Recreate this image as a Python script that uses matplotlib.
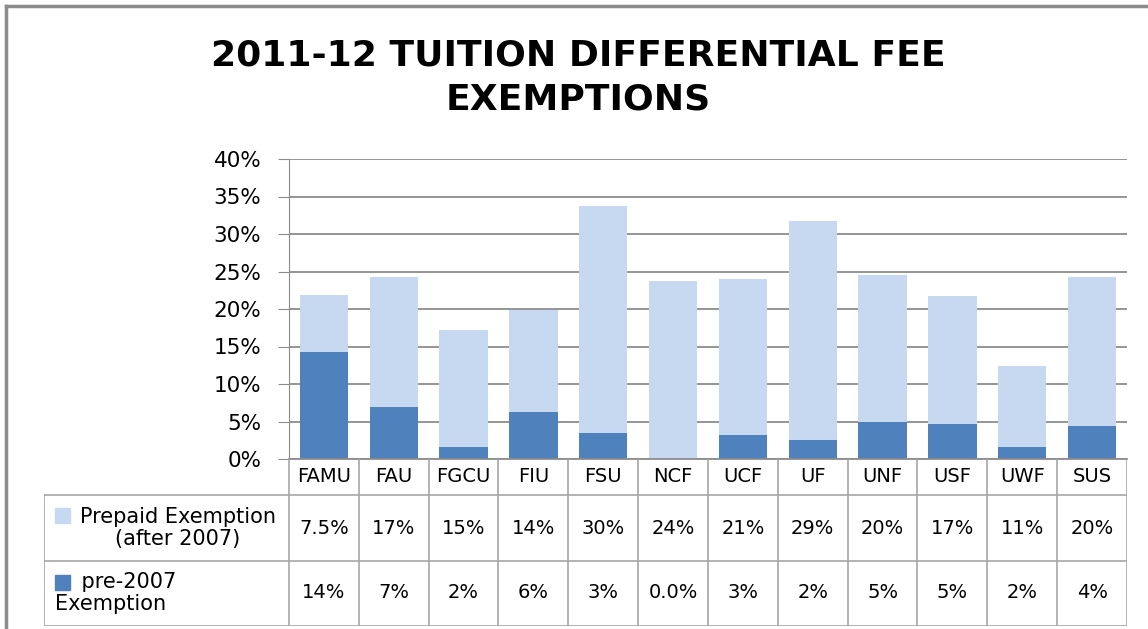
import matplotlib.pyplot as plt
import numpy as np
from matplotlib.lines import Line2D
from matplotlib.patches import Rectangle

schools = ['FAMU', 'FAU', 'FGCU', 'FIU', 'FSU', 'NCF', 'UCF', 'UF', 'UNF', 'USF', 'UWF', 'SUS']
pre2007 = [14.3, 6.9, 1.6, 6.3, 3.5, 0.0, 3.2, 2.5, 5.0, 4.7, 1.6, 4.4]
prepaid = [7.6, 17.4, 15.6, 13.6, 30.2, 23.7, 20.8, 29.2, 19.6, 17.1, 10.8, 19.9]
# text shown in the data table under the chart
prepaid_txt = ['7.5%', '17%', '15%', '14%', '30%', '24%', '21%', '29%', '20%', '17%', '11%', '20%']
pre2007_txt = ['14%', '7%', '2%', '6%', '3%', '0.0%', '3%', '2%', '5%', '5%', '2%', '4%']
yticks = [0, 5, 10, 15, 20, 25, 30, 35, 40]

light = '#C6D9F1'
dark = '#4F81BD'
grid_c = '#8C8C8C'
tab_c = '#A6A6A6'

W, H = 1148, 629
def box(l, t, r, b):
    return [l / W, 1 - b / H, (r - l) / W, (b - t) / H]

fig = plt.figure(figsize=(W / 100, H / 100), dpi=100)

# outer frame (top and left only visible)
fig.add_artist(Line2D([6 / W, 1], [1 - 6 / H, 1 - 6 / H], color=grid_c, lw=2.5))
fig.add_artist(Line2D([6 / W, 6 / W], [0, 1 - 6 / H], color=grid_c, lw=2.5))

fig.text(578 / W, 1 - 55 / H, '2011-12 TUITION DIFFERENTIAL FEE', ha='center', va='center',
         fontsize=26, fontweight='bold')
fig.text(578 / W, 1 - 100 / H, 'EXEMPTIONS', ha='center', va='center',
         fontsize=26, fontweight='bold')

ax = fig.add_axes(box(289, 159, 1127, 459))
x = np.arange(len(schools))
ax.bar(x, pre2007, 0.69, color=dark, zorder=2)
ax.bar(x, prepaid, 0.69, bottom=pre2007, color=light, zorder=2)
ax.set_xlim(-0.5, len(schools) - 0.5)
ax.set_ylim(0, 40)
ax.set_yticks(yticks)
ax.set_yticklabels([f'{v}%' for v in yticks], fontsize=15.5)
ax.set_xticks([])
ax.yaxis.grid(True, color=grid_c, lw=1.3)
ax.set_axisbelow(True)
for s in ['top', 'right']:
    ax.spines[s].set_visible(False)
ax.spines['left'].set_color(grid_c)
ax.spines['bottom'].set_color(grid_c)
ax.spines['bottom'].set_linewidth(1.3)
ax.tick_params(axis='y', direction='out', length=8, color=grid_c, pad=12)

# data table below the plot, columns aligned with the bars
unit = (1127 - 289) / len(schools)
tab = fig.add_axes(box(44, 459, 1127, 626))
tab.set_xlim(-0.5 - (289 - 44) / unit, len(schools) - 0.5)
tab.set_ylim(167, 0)
tab.axis('off')
x0 = -0.5 - (289 - 44) / unit
for i in range(len(schools) + 1):
    tab.plot([i - 0.5, i - 0.5], [0, 167], color=tab_c, lw=1.2)
tab.plot([x0, x0], [36, 167], color=tab_c, lw=1.2)
for yy in [36, 102, 167]:
    tab.plot([x0, len(schools) - 0.5], [yy, yy], color=tab_c, lw=1.2)

for i, s in enumerate(schools):
    tab.text(i, 18, s, ha='center', va='center', fontsize=14)
    tab.text(i, 69, prepaid_txt[i], ha='center', va='center', fontsize=14)
    tab.text(i, 134, pre2007_txt[i], ha='center', va='center', fontsize=14)

sq = 15 / unit
tab.add_patch(Rectangle((x0 + 11 / unit, 49), sq, 15, color=light))
tab.text(x0 + 134 / unit, 69, 'Prepaid Exemption\n(after 2007)', ha='center', va='center',
         multialignment='center', fontsize=15, linespacing=1.15)
tab.add_patch(Rectangle((x0 + 11 / unit, 116), sq, 15, color=dark))
tab.text(x0 + 11 / unit, 134, '    pre-2007\nExemption', ha='left', va='center',
         fontsize=15, linespacing=1.15)

fig.savefig('out.png', dpi=100)
